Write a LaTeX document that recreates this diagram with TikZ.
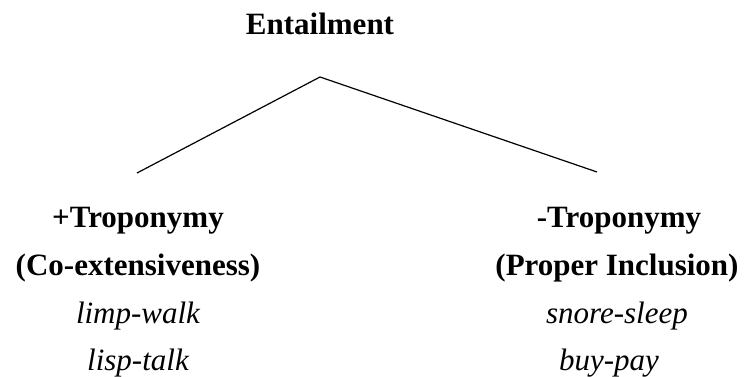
\documentclass[tikz,border=0pt]{standalone}
\usepackage{fontspec}
\setmainfont{Liberation Serif}
\begin{document}
\begin{tikzpicture}[x=1pt,y=-1pt,
  lbl/.style={anchor=base,inner sep=0pt,font=\fontsize{31}{36}\selectfont\bfseries},
  ex/.style={anchor=base,inner sep=0pt,font=\fontsize{31}{36}\selectfont\itshape},
  branch/.style={line width=1.2pt}]
\useasboundingbox (0,0) rectangle (745,377);
\node[lbl] (ent) at (320,35) {Entailment};
\coordinate (apex) at (320,77);
\coordinate (lend) at (137,173);
\coordinate (rend) at (597,172);
\draw[branch] (lend) -- (apex) -- (rend);
\node[lbl] (ltrop) at (138,227) {+Troponymy};
\node[lbl] (lcoex) at (138,275) {(Co-extensiveness)};
\node[ex] (limp) at (138,323) {limp-walk};
\node[ex] (lisp) at (138,370) {lisp-talk};
\node[lbl] (rtrop) at (619,227) {-Troponymy};
\node[lbl] (rprop) at (617,275) {(Proper Inclusion)};
\node[ex] (snore) at (617,323) {snore-sleep};
\node[ex] (buy) at (609,370) {buy-pay};
\end{tikzpicture}
\end{document}
